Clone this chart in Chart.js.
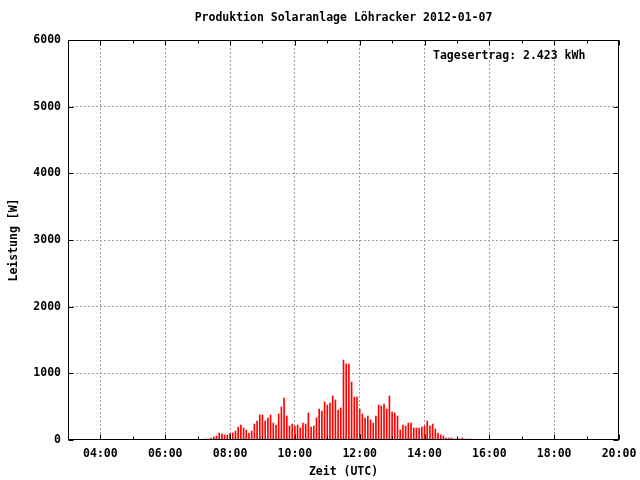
<!DOCTYPE html>
<html>
<head>
<meta charset="utf-8">
<script src="https://cdn.jsdelivr.net/npm/chart.js@4/dist/chart.umd.min.js"></script>
<style>
  html, body { margin: 0; padding: 0; background: #fff; }
</style>
</head>
<body>
<canvas id="solarChart" width="640" height="480"></canvas>
<script>
// Messzeitpunkte (5-Minuten-Werte, UTC)
const zeiten = [
  "07:15", "07:20", "07:25", "07:30", "07:35", "07:40", "07:45", "07:50", "07:55",
  "08:00", "08:05", "08:10", "08:15", "08:20", "08:25", "08:30", "08:35", "08:40", "08:45", "08:50", "08:55",
  "09:00", "09:05", "09:10", "09:15", "09:20", "09:25", "09:30", "09:35", "09:40", "09:45", "09:50", "09:55",
  "10:00", "10:05", "10:10", "10:15", "10:20", "10:25", "10:30", "10:35", "10:40", "10:45", "10:50", "10:55",
  "11:00", "11:05", "11:10", "11:15", "11:20", "11:25", "11:30", "11:35", "11:40", "11:45", "11:50", "11:55",
  "12:00", "12:05", "12:10", "12:15", "12:20", "12:25", "12:30", "12:35", "12:40", "12:45", "12:50", "12:55",
  "13:00", "13:05", "13:10", "13:15", "13:20", "13:25", "13:30", "13:35", "13:40", "13:45", "13:50", "13:55",
  "14:00", "14:05", "14:10", "14:15", "14:20", "14:25", "14:30", "14:35", "14:40", "14:45", "14:50", "14:55",
  "15:00", "15:05", "15:10", "15:15", "15:20", "15:25"
];

// Leistung in W
const leistung = [
  15, 15, 30, 45, 60, 105, 90, 75, 75,
  100, 105, 135, 195, 225, 180, 150, 105, 135, 240, 285, 375,
  375, 285, 330, 375, 255, 225, 390, 495, 630, 360, 210, 240,
  210, 225, 180, 255, 240, 405, 195, 210, 330, 465, 435, 570,
  525, 555, 660, 600, 450, 480, 1200, 1140, 1140, 870, 645, 645,
  465, 390, 330, 360, 300, 255, 360, 525, 510, 540, 465, 660,
  420, 405, 360, 150, 225, 210, 255, 255, 180, 180, 180, 195,
  210, 285, 210, 240, 165, 105, 75, 60, 30, 30, 30, 15,
  15, 15, 30, 15, 15, 15
];

const xTicks = [4, 6, 8, 10, 12, 14, 16, 18, 20];
const xTickLabels = ["04:00", "06:00", "08:00", "10:00", "12:00", "14:00", "16:00", "18:00", "20:00"];
const xMinor = [5, 7, 9, 11, 13, 15, 17, 19];
const yTicks = [0, 1000, 2000, 3000, 4000, 5000, 6000];

const titel = "Produktion Solaranlage Löhracker 2012-01-07";
const tagesertrag = "Tagesertrag: 2.423 kWh";

const FONT = { family: "'DejaVu Sans Mono', monospace", size: 11.5, weight: "bold" };
const FONT_CSS = "bold 11.5px 'DejaVu Sans Mono', monospace";

const toHours = t => {
  const [h, m] = t.split(":").map(Number);
  return h + m / 60;
};

// Rahmen, Ticks nach innen, Titel und Tagesertrag
const rahmen = {
  id: "rahmen",
  afterDatasetsDraw(chart) {
    const { ctx, chartArea: a, scales: { x, y } } = chart;
    const L = Math.round(a.left) + 0.5, R = Math.round(a.right) - 0.5;
    const T = Math.round(a.top) + 0.5, B = Math.round(a.bottom) - 0.5;
    ctx.save();
    ctx.strokeStyle = "#000";
    ctx.lineWidth = 1;
    ctx.beginPath();
    xTicks.forEach(v => {
      const px = Math.round(x.getPixelForValue(v)) + 0.5;
      ctx.moveTo(px, B); ctx.lineTo(px, B - 5);
      ctx.moveTo(px, T); ctx.lineTo(px, T + 5);
    });
    xMinor.forEach(v => {
      const px = Math.round(x.getPixelForValue(v)) + 0.5;
      ctx.moveTo(px, B); ctx.lineTo(px, B - 3);
      ctx.moveTo(px, T); ctx.lineTo(px, T + 3);
    });
    yTicks.forEach(v => {
      const py = Math.round(y.getPixelForValue(v)) + 0.5;
      ctx.moveTo(L, py); ctx.lineTo(L + 5, py);
      ctx.moveTo(R, py); ctx.lineTo(R - 5, py);
    });
    ctx.stroke();
    ctx.strokeRect(L, T, R - L, B - T);

    ctx.fillStyle = "#000";
    ctx.font = FONT_CSS;
    ctx.textBaseline = "middle";
    ctx.textAlign = "center";
    ctx.fillText(titel, (a.left + a.right) / 2, 18);
    ctx.textAlign = "left";
    ctx.fillText(tagesertrag, a.right - 186, a.top + 16);
    ctx.restore();
  }
};

const gridColor = ends => c => ends.includes(c.tick.value) ? "rgba(0,0,0,0)" : "#a0a0a0";

const ctx = document.getElementById("solarChart").getContext("2d");
new Chart(ctx, {
  type: "bar",
  data: {
    datasets: [{
      data: zeiten.map((t, i) => ({ x: toHours(t), y: leistung[i] })),
      backgroundColor: "#ff0000",
      borderWidth: 0,
      barThickness: 1
    }]
  },
  options: {
    responsive: false,
    animation: false,
    layout: { padding: { left: 0, right: 21, top: 40, bottom: 0 } },
    plugins: {
      legend: { display: false },
      tooltip: { enabled: false },
      title: { display: false }
    },
    scales: {
      x: {
        type: "linear",
        min: 3,
        max: 20,
        offset: false,
        afterBuildTicks: s => { s.ticks = xTicks.map(v => ({ value: v })); },
        afterFit: s => { s.height = 40; s.paddingLeft = 0; s.paddingRight = 0; },
        grid: { offset: false, drawTicks: false, color: gridColor([20]) },
        border: { display: false, dash: [2, 2] },
        ticks: {
          color: "#000",
          font: FONT,
          padding: 7,
          maxRotation: 0,
          autoSkip: false,
          callback: (v, i) => xTickLabels[i]
        },
        title: {
          display: true,
          text: "Zeit (UTC)",
          color: "#000",
          font: FONT,
          padding: { top: 0, bottom: 1 }
        }
      },
      y: {
        min: 0,
        max: 6000,
        afterBuildTicks: s => { s.ticks = yTicks.map(v => ({ value: v })); },
        afterFit: s => { s.width = 68; s.paddingTop = 0; s.paddingBottom = 0; },
        grid: { drawTicks: false, color: gridColor([0, 6000]) },
        border: { display: false, dash: [2, 2] },
        ticks: {
          color: "#000",
          font: FONT,
          padding: 7,
          callback: v => String(v)
        },
        title: {
          display: true,
          text: "Leistung [W]",
          color: "#000",
          font: FONT,
          padding: { top: 7, bottom: 0 }
        }
      }
    }
  },
  plugins: [rahmen]
});
</script>
</body>
</html>
